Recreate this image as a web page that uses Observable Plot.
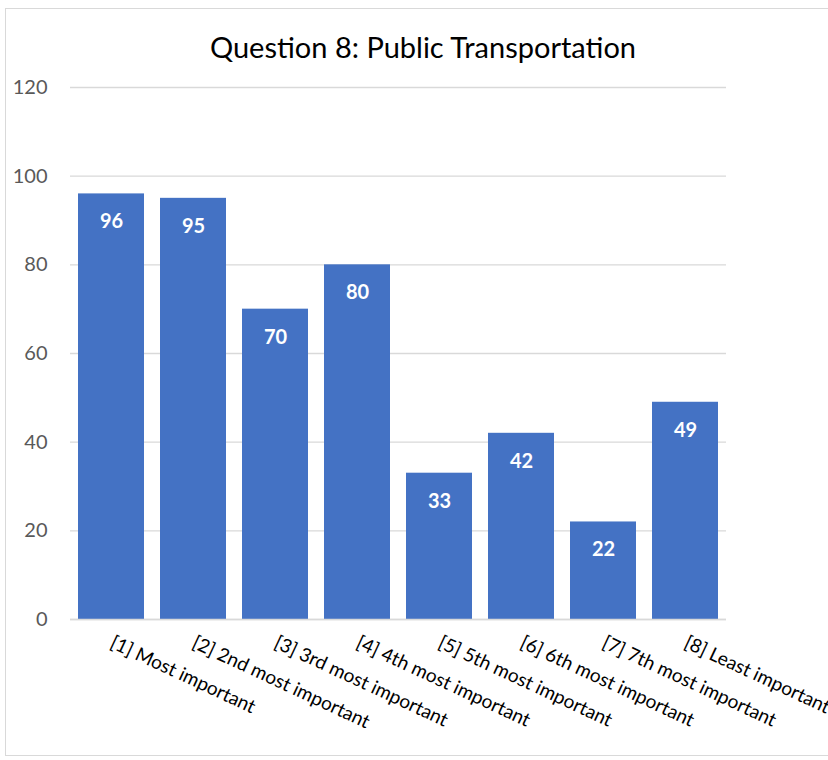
<!DOCTYPE html>
<html>
<head>
<meta charset="utf-8">
<script src="https://cdn.jsdelivr.net/npm/d3@7"></script>
<script src="https://cdn.jsdelivr.net/npm/@observablehq/plot@0.6"></script>
<style>
  html, body { margin: 0; padding: 0; background: #fff; overflow: hidden; width: 828px; height: 760px; }
  #frame { position: absolute; left: 5px; top: 8px; width: 900px; height: 748px; border: 1px solid #d9d9d9; box-sizing: border-box; }
  #title { position: absolute; left: 0; top: 29px; width: 846px; text-align: center; font-family: Lato, sans-serif; font-size: 29px; color: #000; line-height: 36px; }
  #chart { position: absolute; left: 0; top: 70px; }
</style>
</head>
<body>
<div id="frame"></div>
<div id="title">Question 8: Public Transportation</div>
<div id="chart"></div>
<script>
const categories = ["[1] Most important", "[2] 2nd most important", "[3] 3rd most important", "[4] 4th most important", "[5] 5th most important", "[6] 6th most important", "[7] 7th most important", "[8] Least important"];
const values = [96, 95, 70, 80, 33, 42, 22, 49];
const yTicks = [0, 20, 40, 60, 80, 100, 120];

const data = categories.map((c, i) => ({category: c, value: values[i]}));

const chart = Plot.plot({
  width: 828,
  height: 690,
  marginLeft: 70,
  marginRight: 102,
  marginTop: 17,
  marginBottom: 141,
  style: {fontFamily: "Lato, sans-serif", background: "transparent", overflow: "visible"},
  x: {domain: categories, paddingInner: 0.2, paddingOuter: 0.1, label: null},
  y: {domain: [0, 120], ticks: yTicks, label: null},
  marks: [
    Plot.gridY(yTicks, {stroke: "#d9d9d9", strokeOpacity: 1, strokeWidth: 1.3}),
    Plot.barY(data, {x: "category", y: "value", fill: "#4472c4"}),
    Plot.ruleY([0], {stroke: "#d9d9d9", strokeWidth: 1.5}),
    Plot.text(data, {x: "category", y: "value", text: d => String(d.value), dy: 28, fill: "#fff", fontWeight: "bold", fontSize: 20}),
    Plot.axisY({ticks: yTicks, tickSize: 0, tickPadding: 0, dx: -23, textAnchor: "end", fontSize: 20, fill: "#595959", label: null}),
    Plot.axisX({tickSize: 0, tickPadding: 22, tickRotate: 25, fontSize: 19, fill: "#000", label: null})
  ]
});
document.getElementById("chart").appendChild(chart);
</script>
</body>
</html>
